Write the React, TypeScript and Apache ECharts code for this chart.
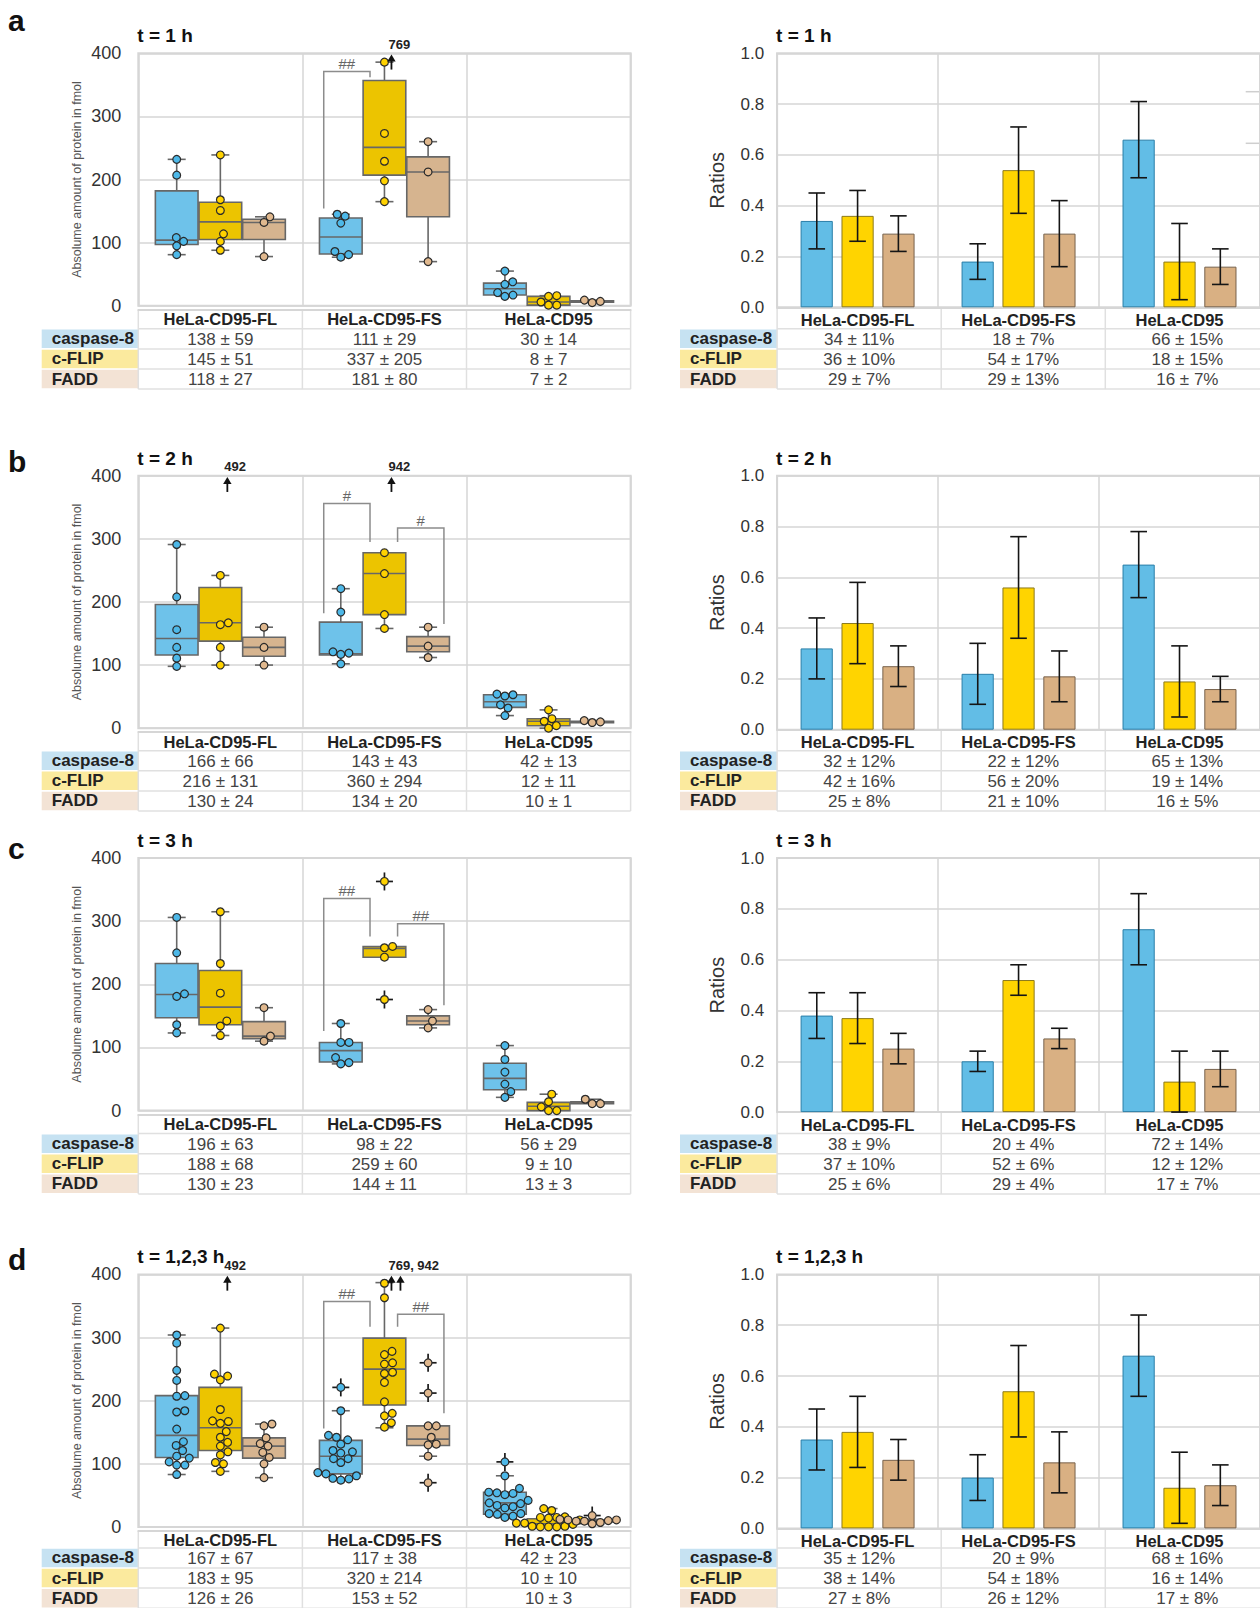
import React, { useEffect, useRef } from "react";
import * as echarts from "echarts";

// ---------------- data ----------------
const categories = ["HeLa-CD95-FL", "HeLa-CD95-FS", "HeLa-CD95"];
const proteins = ["caspase-8", "c-FLIP", "FADD"];
const panelLetters = ["a", "b", "c", "d"];
const panelTitles = ["t = 1 h", "t = 2 h", "t = 3 h", "t = 1,2,3 h"];
const absAxisName = "Absolume amount of protein in fmol";
const ratioAxisName = "Ratios";

// panel a (t = 1 h) — individual values per cell line [FL, FS, CD95]
const aCasp = [[232, 207, 108, 102, 95, 81], [145, 142, 131, 86, 81, 77], [55, 38, 34, 21, 17, 15]];
const aFlip = [[239, 168, 151, 114, 102, 88], [386, 273, 229, 198, 165], [16, 15, 6, 1, 1]];
const aFadd = [[141, 132, 78], [260, 212, 70], [9, 7, 5]];
// box stats [min, q1, median, q3, max]
const aCaspBox = [[81, 97, 104, 182, 232], [77, 82, 109, 139, 145], [15, 17, 27, 36, 55]];
const aFlipBox = [[88, 105, 133, 164, 239], [165, 207, 251, 357, 386], [1, 1, 6, 15, 16]];
const aFaddBox = [[78, 105, 132, 137, 141], [70, 141, 212, 236, 260], [5, 6, 7, 8, 9]];
const aOutliers: number[][] = [];
const aOffScale = [[1, 1, 769]];
const aBrackets = [[1, 0, 1, 371, 154, 362]];
const aBracketLabels = ["##"];
const aMean = [[138, 111, 30], [145, 337, 8], [118, 181, 7]];
const aSd = [[59, 29, 14], [51, 205, 7], [27, 80, 2]];
const aRatio = [[0.34, 0.18, 0.66], [0.36, 0.54, 0.18], [0.29, 0.29, 0.16]];
const aRatioSd = [[0.11, 0.07, 0.15], [0.10, 0.17, 0.15], [0.07, 0.13, 0.07]];

// panel b (t = 2 h)
const bCasp = [[291, 208, 156, 128, 111, 98], [221, 184, 121, 119, 117, 102], [54, 53, 51, 37, 32, 20]];
const bFlip = [[242, 167, 164, 128, 100], [278, 245, 180, 158], [29, 15, 11, 4, 0]];
const bFadd = [[160, 128, 100], [160, 130, 112], [12, 10, 9]];
const bCaspBox = [[98, 116, 142, 196, 291], [102, 116, 118, 168, 221], [20, 33, 42, 53, 54]];
const bFlipBox = [[100, 138, 167, 223, 242], [158, 180, 245, 278, 278], [0, 4, 11, 15, 29]];
const bFaddBox = [[100, 114, 128, 144, 160], [112, 121, 130, 145, 160], [9, 9.5, 10, 11, 12]];
const bOutliers: number[][] = [];
const bOffScale = [[0, 1, 492], [1, 1, 942]];
const bBrackets = [[1, 0, 1, 356, 182, 295], [1, 1, 2, 317, 295, 165]];
const bBracketLabels = ["#", "#"];
const bMean = [[166, 143, 42], [216, 360, 12], [130, 134, 10]];
const bSd = [[66, 43, 13], [131, 294, 11], [24, 20, 1]];
const bRatio = [[0.32, 0.22, 0.65], [0.42, 0.56, 0.19], [0.25, 0.21, 0.16]];
const bRatioSd = [[0.12, 0.12, 0.13], [0.16, 0.20, 0.14], [0.08, 0.10, 0.05]];

// panel c (t = 3 h)
const cCasp = [[306, 250, 185, 181, 136, 123], [138, 108, 108, 84, 76, 74], [103, 81, 61, 42, 30, 21]];
const cFlip = [[315, 233, 186, 142, 134, 119], [363, 260, 258, 243, 176], [26, 14, 6, 0, 0]];
const cFadd = [[163, 118, 110], [160, 142, 131], [18, 11, 11]];
const cCaspBox = [[123, 147, 184, 233, 306], [74, 77, 95, 108, 138], [21, 33, 51, 75, 103]];
const cFlipBox = [[119, 136, 164, 222, 315], [243, 243, 257, 260, 260], [0, 0, 7, 13, 26]];
const cFaddBox = [[110, 114, 118, 141, 163], [131, 136, 142, 150, 160], [11, 11, 12, 14, 18]];
const cOutliers = [[1, 1, 363], [1, 1, 176]];
const cOffScale: number[][] = [];
const cBrackets = [[1, 0, 1, 336, 126, 276], [1, 1, 2, 296, 276, 167]];
const cBracketLabels = ["##", "##"];
const cMean = [[196, 98, 56], [188, 259, 9], [130, 144, 13]];
const cSd = [[63, 22, 29], [68, 60, 10], [23, 11, 3]];
const cRatio = [[0.38, 0.20, 0.72], [0.37, 0.52, 0.12], [0.25, 0.29, 0.17]];
const cRatioSd = [[0.09, 0.04, 0.14], [0.10, 0.06, 0.12], [0.06, 0.04, 0.07]];

// panel d (t = 1,2,3 h)
const dCasp = [
  [304, 291, 248, 232, 208, 207, 184, 182, 155, 135, 129, 121, 112, 109, 103, 98, 98, 83],
  [221, 184, 145, 142, 138, 131, 121, 119, 117, 108, 108, 102, 86, 84, 81, 77, 76, 74],
  [103, 81, 61, 55, 54, 53, 51, 42, 38, 37, 34, 32, 30, 21, 21, 20, 17, 15],
];
const dFlip = [
  [315, 242, 239, 233, 186, 168, 167, 164, 151, 142, 134, 128, 119, 114, 102, 100, 88],
  [386, 363, 278, 273, 260, 258, 245, 243, 229, 198, 180, 176, 165, 158],
  [29, 26, 16, 15, 15, 14, 11, 6, 6, 4, 1, 1, 0, 0, 0],
];
const dFadd = [[163, 160, 141, 132, 128, 118, 110, 100, 78], [260, 212, 160, 160, 142, 131, 130, 112, 70], [18, 12, 11, 11, 10, 9, 9, 7, 5]];
const dCaspBox = [[83, 110, 145, 208, 304], [74, 84, 112, 137, 184], [15, 20, 38, 55, 81]];
const dFlipBox = [[88, 121, 157, 221, 315], [157, 193, 250, 299, 387], [0, 1, 5, 13, 29]];
const dFaddBox = [[78, 109, 128, 141, 163], [112, 129, 139, 160, 160], [5, 8, 10, 11, 12]];
const dOutliers = [[1, 0, 221], [2, 0, 103], [1, 2, 260], [1, 2, 212], [1, 2, 70], [2, 2, 18]];
const dOffScale = [[0, 1, 492], [1, 1, 769], [1, 1, 942]];
const dBrackets = [[1, 0, 1, 357, 156, 317], [1, 1, 2, 337, 317, 180]];
const dBracketLabels = ["##", "##"];
const dMean = [[167, 117, 42], [183, 320, 10], [126, 153, 10]];
const dSd = [[67, 38, 23], [95, 214, 10], [26, 52, 3]];
const dRatio = [[0.35, 0.20, 0.68], [0.38, 0.54, 0.16], [0.27, 0.26, 0.17]];
const dRatioSd = [[0.12, 0.09, 0.16], [0.14, 0.18, 0.14], [0.08, 0.12, 0.08]];

const dotsByPanel = [[aCasp, aFlip, aFadd], [bCasp, bFlip, bFadd], [cCasp, cFlip, cFadd], [dCasp, dFlip, dFadd]];
const boxesByPanel = [[aCaspBox, aFlipBox, aFaddBox], [bCaspBox, bFlipBox, bFaddBox], [cCaspBox, cFlipBox, cFaddBox], [dCaspBox, dFlipBox, dFaddBox]];
const outliersByPanel = [aOutliers, bOutliers, cOutliers, dOutliers];
const offScaleByPanel = [aOffScale, bOffScale, cOffScale, dOffScale];
const bracketsByPanel = [aBrackets, bBrackets, cBrackets, dBrackets];
const bracketLabelsByPanel = [aBracketLabels, bBracketLabels, cBracketLabels, dBracketLabels];
const meanByPanel = [aMean, bMean, cMean, dMean];
const sdByPanel = [aSd, bSd, cSd, dSd];
const ratioByPanel = [aRatio, bRatio, cRatio, dRatio];
const ratioSdByPanel = [aRatioSd, bRatioSd, cRatioSd, dRatioSd];

// ---------------- layout & style ----------------
const FONT = "'Liberation Sans', Arial, Helvetica, sans-serif";
const ROW_TOP = [53.3, 475.7, 858.1, 1274.4];
const LETTER_Y = [20.5, 461.3, 848.9, 1259];
const TABLE_GAP = [23, 22.5, 23, 21];
const ROW_H = 20.1;
const PLOT_H_L = 252.5;
const PLOT_H_R = 254;
const L_LEFT = 138.3;
const R_LEFT = 777.1;
const CAT_W = 164.1;
const L_HEAD_X = 41.7;
const R_HEAD_X = 680;
const GRID_C = "#d6d6d6";
const TABLE_LINE = "#e0e0e0";

const BOX_OFF = [-0.266, 0, 0.266];
const BOX_W = 0.26;
const BAR_OFF = [-0.2535, 0, 0.2535];
const CAP_HALF = 9;
const ERR_CAP_HALF = 8.3;
const DOT_R = 3.9;
const SWARM_D = 2 * DOT_R + 0.4;
const PX_PER_UNIT = PLOT_H_L / 400;
const BRACKET_X: Record<string, number[]> = { "0-1": [-0.37, -0.088], "1-2": [0.08, 0.3625] };

const BOX_FILL = ["#6ec2ea", "#ecc400", "#d6b48f"];
const BOX_STROKE = "#676767";
const DOT_FILL = ["#4db8e8", "#ffd200", "#e0b88e"];
const BAR_FILL = ["#62bde6", "#ffd400", "#d9b083"];
const BAR_BORDER = ["#2a7fa8", "#8c7a1e", "#77624c"];
const HEAD_BG = ["#c6e2f2", "#fbea9e", "#f3e3d5"];

function swarm(values: number[]): number[] {
  const d = SWARM_D;
  const idx = values.map((_, i) => i).sort((a, b) => values[a] - values[b]);
  const placed: { x: number; y: number }[] = [];
  const out = new Array(values.length).fill(0);
  for (const i of idx) {
    const y = values[i] * PX_PER_UNIT;
    const near = placed.filter((p) => Math.abs(p.y - y) < d);
    const cands = [0];
    for (const p of near) {
      const dx = Math.sqrt(Math.max(0, d * d - (p.y - y) ** 2));
      cands.push(p.x + dx, p.x - dx);
    }
    cands.sort((a, b) => Math.abs(a) - Math.abs(b) || b - a);
    let x = 0;
    for (const c of cands) {
      if (near.every((p) => (p.x - c) ** 2 + (p.y - y) ** 2 >= d * d - 0.01)) {
        x = c;
        break;
      }
    }
    placed.push({ x, y });
    out[i] = x;
  }
  return out;
}

function txt(text: string, x: number, y: number, font: string, fill: string, align = "center", valign = "middle") {
  return {
    type: "text",
    x,
    y,
    silent: true,
    style: { text, font, fill, align, verticalAlign: valign, textAlign: align, textVerticalAlign: valign },
  };
}

function hline(x1: number, x2: number, y: number, color: string, w: number) {
  return { type: "line", silent: true, shape: { x1, y1: y, x2, y2: y }, style: { stroke: color, lineWidth: w } };
}
function vline(x: number, y1: number, y2: number, color: string, w: number) {
  return { type: "line", silent: true, shape: { x1: x, y1, x2: x, y2 }, style: { stroke: color, lineWidth: w } };
}

function buildOption() {
  const grid: any[] = [];
  const xAxis: any[] = [];
  const yAxis: any[] = [];
  const series: any[] = [];
  const graphic: any[] = [];

  for (let r = 0; r < 4; r++) {
    const gl = grid.length;
    const gr = gl + 1;
    grid.push({ left: L_LEFT, top: ROW_TOP[r], width: 3 * CAT_W, height: PLOT_H_L, show: true, borderColor: GRID_C, borderWidth: 2 });
    grid.push({ left: R_LEFT, top: ROW_TOP[r], width: 3 * CAT_W, height: PLOT_H_R, show: true, borderColor: GRID_C, borderWidth: 2 });

    const catLabel = { fontFamily: FONT, fontWeight: "bold", fontSize: 16.5, color: "#222" };
    xAxis.push({
      gridIndex: gl, type: "category", data: categories, boundaryGap: true, offset: 4,
      axisLine: { show: true, onZero: false, lineStyle: { color: GRID_C, width: 2 } },
      axisTick: { show: false },
      axisLabel: { ...catLabel, margin: 1, interval: 0 },
      splitLine: { show: true, interval: 0, lineStyle: { color: GRID_C, width: 1.5 } },
    });
    xAxis.push({
      gridIndex: gr, type: "category", data: categories, boundaryGap: true,
      axisLine: { show: true, onZero: false, lineStyle: { color: GRID_C, width: 2 } },
      axisTick: { show: false },
      axisLabel: { ...catLabel, margin: 4, interval: 0 },
      splitLine: { show: true, interval: 0, lineStyle: { color: GRID_C, width: 1.5 } },
    });
    yAxis.push({
      gridIndex: gl, type: "value", min: 0, max: 400, interval: 100,
      axisLine: { show: false }, axisTick: { show: false },
      axisLabel: { fontFamily: FONT, fontSize: 18, color: "#333", margin: 17 },
      splitLine: { lineStyle: { color: GRID_C, width: 1.5 } },
      name: absAxisName, nameLocation: "middle", nameGap: 55,
      nameTextStyle: { fontFamily: FONT, fontSize: 12.5, color: "#555" },
    });
    yAxis.push({
      gridIndex: gr, type: "value", min: 0, max: 1, interval: 0.2,
      axisLine: { show: false }, axisTick: { show: false },
      axisLabel: { fontFamily: FONT, fontSize: 17, color: "#333", margin: 13, formatter: (v: number) => v.toFixed(1) },
      splitLine: { lineStyle: { color: GRID_C, width: 1.5 } },
      name: ratioAxisName, nameLocation: "middle", nameGap: 50,
      nameTextStyle: { fontFamily: FONT, fontSize: 20, color: "#333" },
    });

    // ---- boxes
    const boxData: number[][] = [];
    for (let p = 0; p < 3; p++) for (let c = 0; c < 3; c++) boxData.push([c, p, ...boxesByPanel[r][p][c]]);
    series.push({
      type: "custom", coordinateSystem: "cartesian2d", xAxisIndex: gl, yAxisIndex: gl, z: 2,
      encode: { x: 0, y: 4 }, data: boxData,
      renderItem: (params: any, api: any) => {
        const cat = api.value(0), p = api.value(1);
        const lo = api.value(2), q1 = api.value(3), med = api.value(4), q3 = api.value(5), hi = api.value(6);
        const band = api.size([1, 0])[0];
        const cx = api.coord([cat, med])[0] + BOX_OFF[p] * band;
        const hw = (BOX_W * band) / 2;
        const Y = (v: number) => api.coord([cat, v])[1];
        const ls = { stroke: BOX_STROKE, lineWidth: 1.6 };
        const ch: any[] = [];
        if (hi > q3) {
          ch.push({ type: "line", shape: { x1: cx, y1: Y(q3), x2: cx, y2: Y(hi) }, style: ls });
          ch.push({ type: "line", shape: { x1: cx - CAP_HALF, y1: Y(hi), x2: cx + CAP_HALF, y2: Y(hi) }, style: ls });
        }
        if (lo < q1) {
          ch.push({ type: "line", shape: { x1: cx, y1: Y(q1), x2: cx, y2: Y(lo) }, style: ls });
          ch.push({ type: "line", shape: { x1: cx - CAP_HALF, y1: Y(lo), x2: cx + CAP_HALF, y2: Y(lo) }, style: ls });
        }
        const top = Y(q3), bot = Y(q1);
        ch.push({ type: "rect", shape: { x: cx - hw, y: top, width: 2 * hw, height: Math.max(bot - top, 1.5) }, style: { fill: BOX_FILL[p], stroke: BOX_STROKE, lineWidth: 1.6 } });
        ch.push({ type: "line", shape: { x1: cx - hw, y1: Y(med), x2: cx + hw, y2: Y(med) }, style: ls });
        return { type: "group", children: ch };
      },
    });

    // ---- dots
    const dotData: number[][] = [];
    for (let p = 0; p < 3; p++)
      for (let c = 0; c < 3; c++) {
        const vals = dotsByPanel[r][p][c];
        const offs = swarm(vals);
        vals.forEach((v, i) => {
          const out = outliersByPanel[r].some((o) => o[0] === c && o[1] === p && o[2] === v) ? 1 : 0;
          dotData.push([c, p, v, offs[i], out]);
        });
      }
    series.push({
      type: "custom", coordinateSystem: "cartesian2d", xAxisIndex: gl, yAxisIndex: gl, z: 4,
      encode: { x: 0, y: 2 }, data: dotData,
      renderItem: (params: any, api: any) => {
        const cat = api.value(0), p = api.value(1), v = api.value(2), sx = api.value(3), out = api.value(4);
        const band = api.size([1, 0])[0];
        const pt = api.coord([cat, v]);
        const cx = pt[0] + BOX_OFF[p] * band + sx;
        const cy = pt[1];
        const ch: any[] = [];
        if (out) {
          const s = { stroke: "#1a1a1a", lineWidth: 1.7 };
          ch.push({ type: "line", shape: { x1: cx - 8.5, y1: cy, x2: cx + 8.5, y2: cy }, style: s });
          ch.push({ type: "line", shape: { x1: cx, y1: cy - 9, x2: cx, y2: cy + 9 }, style: s });
        }
        ch.push({ type: "circle", shape: { cx, cy, r: DOT_R }, style: { fill: DOT_FILL[p], stroke: "#2a2a2a", lineWidth: 1.2 } });
        return { type: "group", children: ch };
      },
    });

    // ---- off-scale arrows
    const groups: { c: number; p: number; vals: number[] }[] = [];
    offScaleByPanel[r].forEach((o) => {
      let g = groups.find((x) => x.c === o[0] && x.p === o[1]);
      if (!g) { g = { c: o[0], p: o[1], vals: [] }; groups.push(g); }
      g.vals.push(o[2]);
    });
    if (groups.length) {
      series.push({
        type: "custom", coordinateSystem: "cartesian2d", xAxisIndex: gl, yAxisIndex: gl, z: 5,
        encode: { x: 0, y: 2 }, data: groups.map((g) => [g.c, g.p, 400, g.vals.length]),
        renderItem: (params: any, api: any) => {
          const cat = api.value(0), p = api.value(1), n = api.value(3);
          const band = api.size([1, 0])[0];
          const base = api.coord([cat, 398]);
          const x0 = base[0] + BOX_OFF[p] * band + 7;
          const apex = base[1];
          const ch: any[] = [];
          for (let k = 0; k < n; k++) {
            const x = x0 + 9 * k;
            ch.push({ type: "line", shape: { x1: x, y1: apex + 4, x2: x, y2: apex + 15 }, style: { stroke: "#111", lineWidth: 1.8 } });
            ch.push({ type: "polygon", shape: { points: [[x, apex], [x - 4.2, apex + 7], [x + 4.2, apex + 7]] }, style: { fill: "#111" } });
          }
          const label = groups[params.dataIndex].vals.join(", ");
          ch.push({ type: "text", x: x0 - 3, y: apex - 10, style: { text: label, font: `bold 13px ${FONT}`, fill: "#222", align: "left", verticalAlign: "middle", textAlign: "left", textVerticalAlign: "middle" } });
          return { type: "group", children: ch };
        },
      });
    }

    // ---- significance brackets
    const labels = bracketLabelsByPanel[r];
    series.push({
      type: "custom", coordinateSystem: "cartesian2d", xAxisIndex: gl, yAxisIndex: gl, z: 3,
      encode: { x: 0, y: 3 }, data: bracketsByPanel[r],
      renderItem: (params: any, api: any) => {
        const cat = api.value(0), pa = api.value(1), pb = api.value(2);
        const yt = api.value(3), ya = api.value(4), yb = api.value(5);
        const band = api.size([1, 0])[0];
        const c = api.coord([cat, yt]);
        const fr = BRACKET_X[`${pa}-${pb}`];
        const x1 = c[0] + fr[0] * band, x2 = c[0] + fr[1] * band;
        const yT = c[1], yA = api.coord([cat, ya])[1], yB = api.coord([cat, yb])[1];
        return {
          type: "group",
          children: [
            { type: "polyline", shape: { points: [[x1, yA], [x1, yT], [x2, yT], [x2, yB]] }, style: { stroke: "#8c8c8c", lineWidth: 1.5, fill: null } },
            { type: "text", x: (x1 + x2) / 2, y: yT - 8, style: { text: labels[params.dataIndex], font: `15px ${FONT}`, fill: "#666", align: "center", verticalAlign: "middle", textAlign: "center", textVerticalAlign: "middle" } },
          ],
        };
      },
    });

    // ---- ratio bars
    for (let p = 0; p < 3; p++) {
      series.push({
        type: "bar", name: proteins[p], xAxisIndex: gr, yAxisIndex: gr, z: 2,
        data: ratioByPanel[r][p], barWidth: "20%", barGap: "27%",
        itemStyle: { color: BAR_FILL[p], borderColor: BAR_BORDER[p], borderWidth: 1 },
      });
    }
    const errData: number[][] = [];
    for (let p = 0; p < 3; p++) for (let c = 0; c < 3; c++) errData.push([c, p, ratioByPanel[r][p][c], ratioSdByPanel[r][p][c]]);
    series.push({
      type: "custom", coordinateSystem: "cartesian2d", xAxisIndex: gr, yAxisIndex: gr, z: 5,
      encode: { x: 0, y: 2 }, data: errData,
      renderItem: (params: any, api: any) => {
        const cat = api.value(0), p = api.value(1), m = api.value(2), s = api.value(3);
        const band = api.size([1, 0])[0];
        const hiP = api.coord([cat, m + s]);
        const loP = api.coord([cat, m - s]);
        const x = hiP[0] + BAR_OFF[p] * band;
        const st = { stroke: "#151515", lineWidth: 1.6 };
        return {
          type: "group",
          children: [
            { type: "line", shape: { x1: x, y1: hiP[1], x2: x, y2: loP[1] }, style: st },
            { type: "line", shape: { x1: x - ERR_CAP_HALF, y1: hiP[1], x2: x + ERR_CAP_HALF, y2: hiP[1] }, style: st },
            { type: "line", shape: { x1: x - ERR_CAP_HALF, y1: loP[1], x2: x + ERR_CAP_HALF, y2: loP[1] }, style: st },
          ],
        };
      },
    });

    // ---- titles and letters
    graphic.push(txt(panelLetters[r], 8, LETTER_Y[r], `bold 30px ${FONT}`, "#111", "left"));
    graphic.push(txt(panelTitles[r], L_LEFT - 1, ROW_TOP[r] - 17.5, `bold 19px ${FONT}`, "#111", "left"));
    graphic.push(txt(panelTitles[r], R_LEFT - 1, ROW_TOP[r] - 17.5, `bold 19px ${FONT}`, "#111", "left"));

    // ---- tables
    const tableTop = ROW_TOP[r] + PLOT_H_L + TABLE_GAP[r];
    for (let side = 0; side < 2; side++) {
      const plotLeft = side === 0 ? L_LEFT : R_LEFT;
      const headX = side === 0 ? L_HEAD_X : R_HEAD_X;
      const zeroY = ROW_TOP[r] + (side === 0 ? PLOT_H_L + 4 : PLOT_H_R);
      for (let k = 0; k < 3; k++) {
        graphic.push({ type: "rect", silent: true, shape: { x: headX, y: tableTop + k * ROW_H + 0.8, width: plotLeft - headX, height: ROW_H - 1.6 }, style: { fill: HEAD_BG[k] } });
        graphic.push(txt(proteins[k], headX + 10, tableTop + (k + 0.5) * ROW_H, `bold 17px ${FONT}`, "#222", "left"));
        for (let c = 0; c < 3; c++) {
          const t = side === 0
            ? `${meanByPanel[r][k][c]} ± ${sdByPanel[r][k][c]}`
            : `${Math.round(ratioByPanel[r][k][c] * 100)} ± ${Math.round(ratioSdByPanel[r][k][c] * 100)}%`;
          graphic.push(txt(t, plotLeft + (c + 0.5) * CAT_W, tableTop + (k + 0.5) * ROW_H + 0.5, `17px ${FONT}`, "#444"));
        }
      }
      for (let k = 0; k <= 3; k++) graphic.push(hline(plotLeft, plotLeft + 3 * CAT_W, tableTop + k * ROW_H, TABLE_LINE, 1.5));
      for (let j = 0; j <= 3; j++) graphic.push(vline(plotLeft + j * CAT_W, zeroY, tableTop + 3 * ROW_H, TABLE_LINE, 1.5));
    }
  }

  // cut-off decorations at the right edge of the first row
  graphic.push(hline(1245.7, 1260, 91.7, "#cfcfcf", 1.5));
  graphic.push(hline(1245.7, 1260, 143.3, "#cfcfcf", 1.5));

  return {
    animation: false,
    backgroundColor: "#ffffff",
    textStyle: { fontFamily: FONT },
    grid, xAxis, yAxis, series, graphic,
  };
}

export default function App() {
  const ref = useRef<HTMLDivElement>(null);
  useEffect(() => {
    const chart = echarts.init(ref.current!, null, { renderer: "svg" });
    chart.setOption(buildOption() as any);
    return () => chart.dispose();
  }, []);
  return <div ref={ref} style={{ position: "absolute", left: 0, top: 0, width: 1260, height: 1608, background: "#fff" }} />;
}
